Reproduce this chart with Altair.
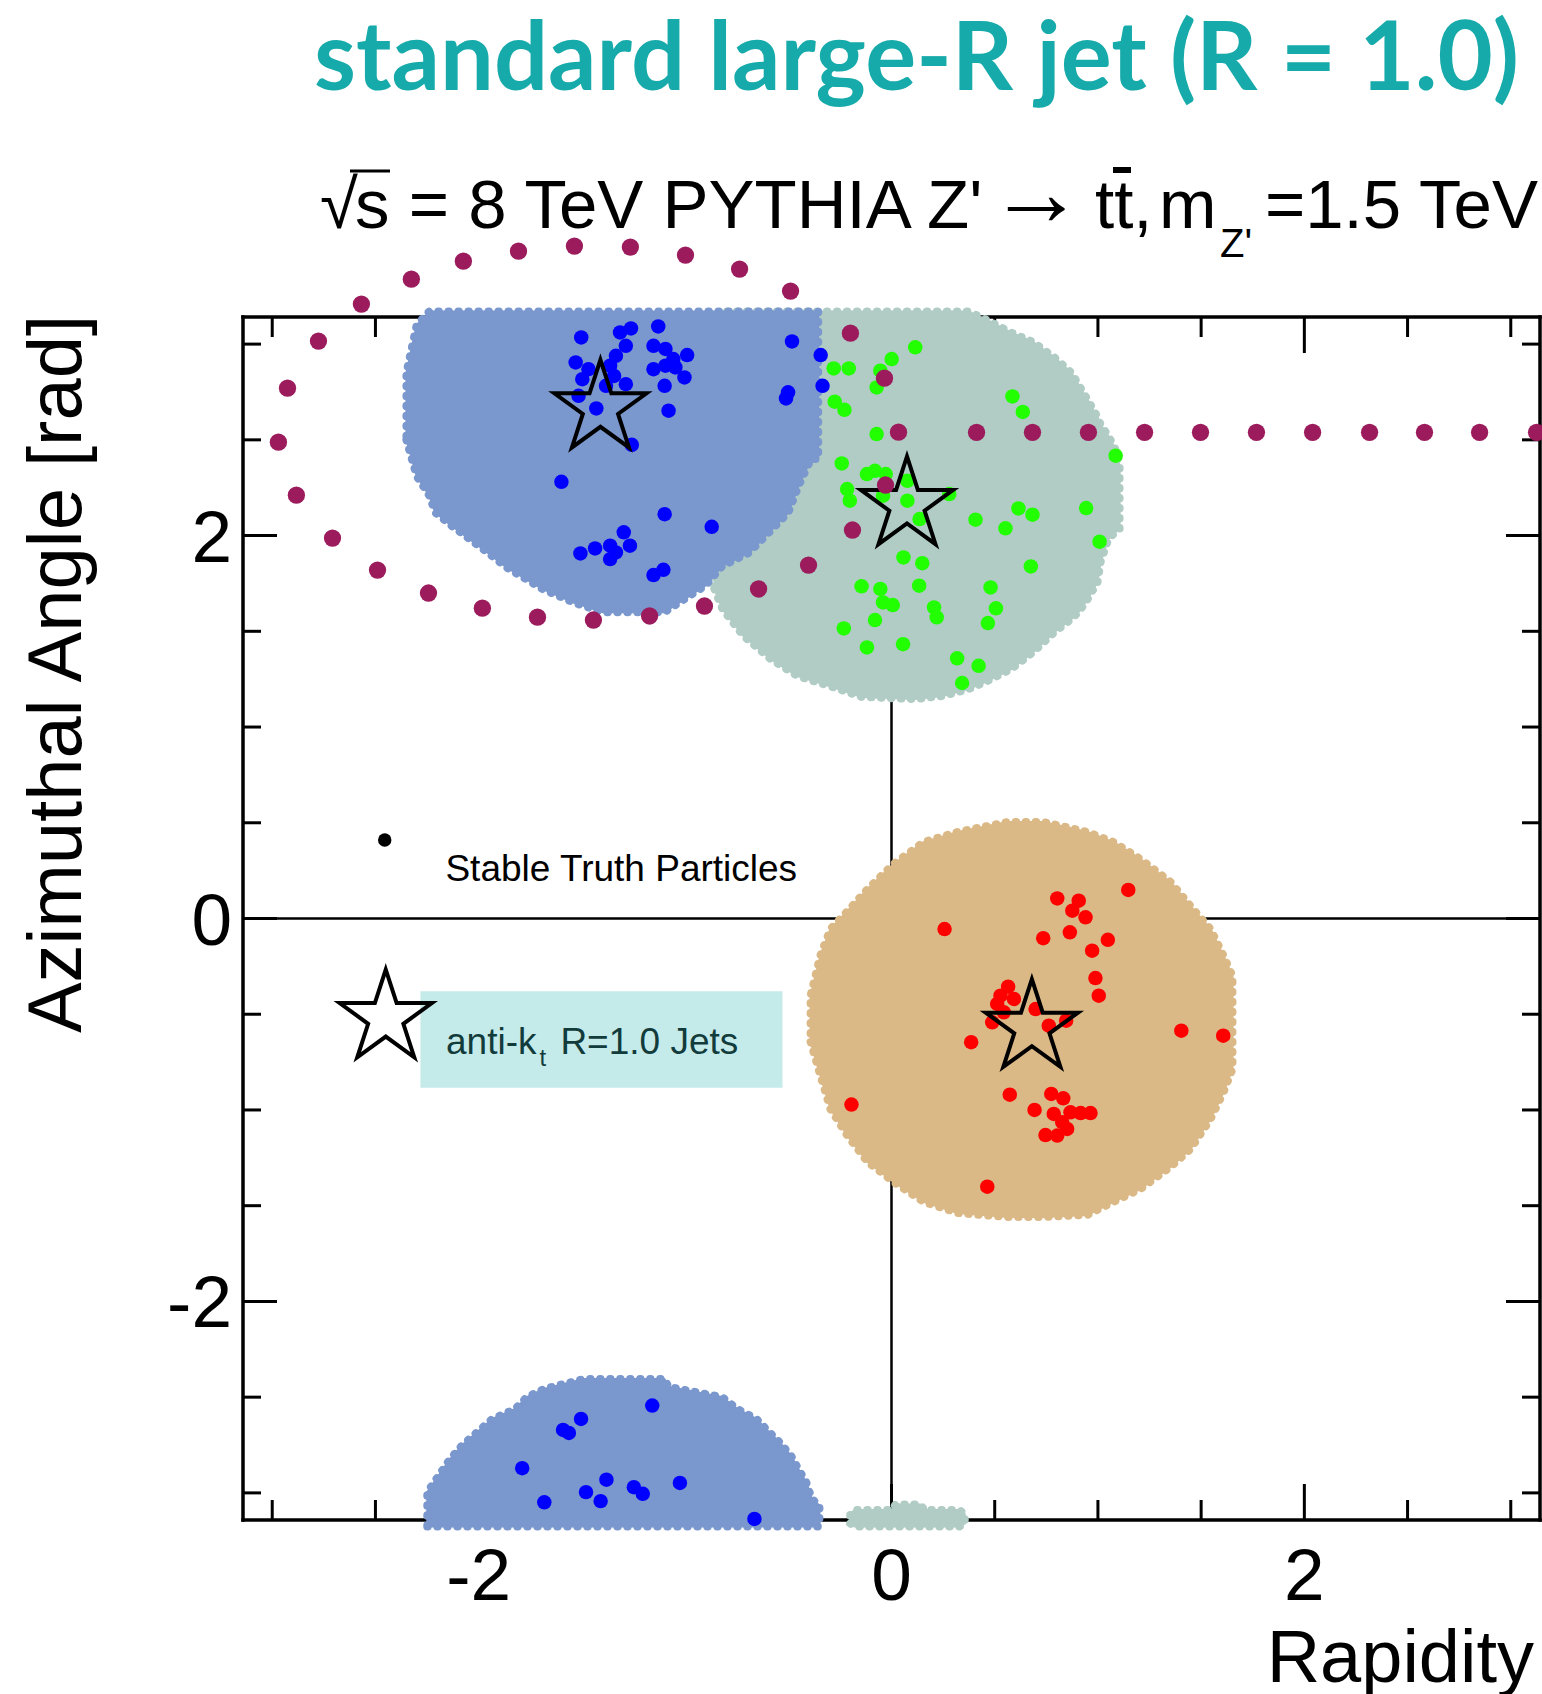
import math

import altair as alt
import pandas as pd

PI = math.pi

# plot area in pixels and the padding around it
W, H = 1297, 1203
PAD = {"left": 243, "top": 317, "right": 2, "bottom": 174}

# ---------------------------------------------------------------- data
# jet catchment areas: rapidity columns with lower / upper azimuth bounds
BLUE_TOP_X = [-2.35, -2.30, -2.24, -2.21, -2.13, -1.98, -1.86, -1.69, -1.54, -1.40,
              -1.10, -0.90, -0.82, -0.69, -0.59, -0.50, -0.45, -0.39, -0.355]
BLUE_TOP_LO = [2.50, 2.31, 2.21, 2.12, 2.05, 1.93, 1.83, 1.72, 1.65, 1.60,
               1.60, 1.74, 1.84, 1.91, 2.02, 2.12, 2.26, 2.40, 2.40]
BLUE_TOP_HI = [2.85, 3.10, 3.17, 3.17, 3.17, 3.17, 3.17, 3.17, 3.17, 3.17,
               3.17, 3.17, 3.17, 3.17, 3.17, 3.17, 3.17, 3.17, 3.17]

BLUE_BOT_X = [-2.249, -2.193, -2.138, -2.082, -2.008, -1.934, -1.823, -1.767, -1.684, -1.489,
              -1.100, -1.080, -0.951, -0.821, -0.747, -0.654, -0.599, -0.543, -0.487, -0.451,
              -0.413, -0.386, -0.349]
BLUE_BOT_HI = [-2.996, -2.908, -2.822, -2.753, -2.683, -2.614, -2.561, -2.500, -2.457, -2.405,
               -2.405, -2.446, -2.473, -2.499, -2.561, -2.614, -2.675, -2.734, -2.805, -2.875,
               -2.944, -3.031, -3.066]
BLUE_BOT_LO = [-3.175] * len(BLUE_BOT_X)

GREEN_TOP_X = [-0.858, -0.819, -0.717, -0.586, -0.455, -0.300, -0.145, 0.116, 0.247, 0.373,
               0.455, 0.581, 0.688, 0.790, 0.872, 0.911, 0.950, 0.998, 1.013, 1.051,
               1.090, 1.105]
GREEN_TOP_LO = [1.721, 1.616, 1.475, 1.355, 1.266, 1.214, 1.157, 1.146, 1.162, 1.198,
                1.235, 1.303, 1.392, 1.496, 1.564, 1.606, 1.668, 1.757, 1.862, 1.982,
                2.023, 2.034]
GREEN_TOP_HI = [1.80, 3.17, 3.17, 3.17, 3.17, 3.17, 3.17, 3.17, 3.17, 3.17,
                3.13, 3.06, 3.01, 2.93, 2.85, 2.78, 2.71, 2.62, 2.58, 2.52,
                2.44, 2.36]

GREEN_BOT_X = [-0.20, -0.18, 0.00, 0.02, 0.14, 0.16, 0.33, 0.355]
GREEN_BOT_LO = [-3.16, -3.175, -3.175, -3.175, -3.175, -3.175, -3.175, -3.16]
GREEN_BOT_HI = [-3.11, -3.09, -3.09, -3.06, -3.06, -3.09, -3.09, -3.11]

TAN_X = [-0.392, -0.344, -0.296, -0.213, -0.116, 0.010, 0.155, 0.320, 0.562, 0.736,
         0.950, 1.076, 1.206, 1.352, 1.449, 1.546, 1.609, 1.652]
TAN_HI = [-0.403, -0.191, -0.055, 0.039, 0.154, 0.285, 0.399, 0.452, 0.504, 0.504,
          0.452, 0.399, 0.311, 0.191, 0.065, -0.055, -0.196, -0.300]
TAN_LO = [-0.645, -0.822, -0.995, -1.136, -1.272, -1.376, -1.480, -1.538, -1.559, -1.559,
          -1.548, -1.480, -1.413, -1.298, -1.204, -1.047, -0.906, -0.786]

# stable truth particles (rapidity, azimuth)
BLUE_PART_X = [-1.503, -1.315, -1.262, -1.130, -1.530, -1.468, -1.363, -1.335, -1.287, -1.344,
               -1.498, -1.383, -1.287, -1.153, -1.095, -0.990, -1.153, -1.095, -1.057, -1.047,
               -1.003, -1.099, -1.516, -1.430, -1.080, -1.258, -1.599, -1.099, -0.871, -1.507,
               -1.436, -1.363, -1.297, -1.267, -1.363, -1.335, -1.153, -1.105, -0.482, -0.343,
               -0.334, -0.501, -0.511,
               -1.159, -1.504, -1.591, -1.563, -1.789, -1.381, -1.248, -1.205, -1.025, -1.480,
               -1.409, -1.682, -0.664]
BLUE_PART_Y = [3.035, 3.061, 3.082, 3.092, 2.904, 2.869, 2.887, 2.939, 2.991, 2.834,
               2.817, 2.782, 2.791, 2.991, 2.975, 2.943, 2.869, 2.887, 2.922, 2.878,
               2.826, 2.782, 2.730, 2.664, 2.652, 2.474, 2.281, 2.112, 2.046, 1.907,
               1.933, 1.947, 2.017, 1.947, 1.877, 1.912, 1.794, 1.821, 3.014, 2.943,
               2.782, 2.748, 2.716,
               -2.544, -2.614, -2.671, -2.687, -2.871, -2.931, -2.970, -3.005, -2.948, -2.996,
               -3.043, -3.049, -3.136]

GREEN_PART_X = [0.115, 0.001, -0.280, -0.207, -0.054, -0.072, -0.275, -0.228, 0.586, 0.636,
                -0.072, 1.086, -0.241, -0.119, -0.080, -0.028, -0.215, -0.202, 0.077, 0.077,
                0.280, 0.136, -0.041, 0.615, 0.683, 0.943, 0.407, 0.552, 1.008, 0.058,
                0.149, 0.675, -0.145, -0.054, 0.134, 0.480, -0.041, 0.006, 0.206, 0.219,
                0.506, 0.467, -0.080, -0.231, -0.119, 0.056, 0.318, 0.422, 0.342]
GREEN_PART_Y = [2.983, 2.922, 2.873, 2.873, 2.861, 2.774, 2.699, 2.657, 2.727, 2.646,
                2.530, 2.417, 2.377, 2.321, 2.338, 2.321, 2.243, 2.182, 2.286, 2.182,
                2.217, 2.086, 2.208, 2.142, 2.109, 2.144, 2.083, 2.038, 1.968, 1.886,
                1.856, 1.839, 1.735, 1.721, 1.738, 1.729, 1.651, 1.637, 1.625, 1.573,
                1.620, 1.543, 1.559, 1.515, 1.416, 1.433, 1.359, 1.320, 1.230]

RED_PART_X = [1.147, 0.803, 0.907, 0.876, 0.940, 0.257, 0.735, 0.864, 1.048, 0.972,
              0.988, 1.004, 0.565, 0.528, 0.593, 0.512, 0.544, 0.488, 0.698, 0.762,
              0.846, 0.386, 1.404, 1.607, -0.194, 0.573, 0.774, 0.832, 0.693, 0.786,
              0.867, 0.964, 0.916, 0.827, 0.851, 0.746, 0.803, 0.464]
RED_PART_Y = [0.149, 0.105, 0.093, 0.041, 0.006, -0.055, -0.103, -0.072, -0.111, -0.168,
              -0.311, -0.403, -0.356, -0.403, -0.420, -0.446, -0.490, -0.542, -0.473, -0.560,
              -0.534, -0.646, -0.586, -0.612, -0.972, -0.920, -0.916, -0.939, -1.000, -1.021,
              -1.012, -1.016, -1.016, -1.064, -1.099, -1.131, -1.134, -1.401]

# anti-kt R=1.0 jet axes
JET_X = [-1.41, 0.075, 0.68]
JET_Y = [2.665, 2.16, -0.57]

# dotted ring and pointer line
RING_X = [-2.568, -2.326, -2.074, -1.807, -1.536, -1.265, -0.998, -0.736, -0.489, -0.199,
          -0.034, 0.034, -0.029, -0.189, -0.402, -0.644, -0.906, -1.172, -1.444, -1.715,
          -1.982, -2.243, -2.490, -2.708, -2.883, -2.970, -2.926, -2.776,
          0.412, 0.683, 0.954, 1.226, 1.497, 1.768, 2.040, 2.316, 2.582, 2.849, 3.125]
RING_Y = [3.209, 3.339, 3.433, 3.486, 3.512, 3.507, 3.465, 3.392, 3.277, 3.057,
          2.822, 2.540, 2.264, 2.029, 1.846, 1.721, 1.632, 1.580, 1.559, 1.574,
          1.621, 1.700, 1.820, 1.987, 2.211, 2.488, 2.770, 3.016,
          2.539, 2.539, 2.539, 2.539, 2.539, 2.539, 2.539, 2.539, 2.539, 2.539, 2.539]

# axis ticks
MAJOR_TICKS = [-2, 0, 2]
MINOR_TICKS = [-3, -2.5, -1.5, -1, -0.5, 0.5, 1, 1.5, 2.5, 3]
TICK_LABELS = ["-2", "0", "2"]

# legend
LEGEND_DOT = {"x": [-2.455], "y": [0.41]}
LEGEND_STAR = {"x": [-2.45], "y": [-0.52]}
LEGEND_BOX = {"x": [-2.282], "x2": [-0.528], "y": [-0.380], "y2": [-0.884]}

# ---------------------------------------------------------------- styles
C_BLUE_AREA = "#7a97ce"
C_GREEN_AREA = "#b0ccc4"
C_TAN_AREA = "#dbb987"
C_BLUE = "#0000ff"
C_GREEN = "#22ff00"
C_RED = "#ff0000"
C_RING = "#9b1b5c"
C_TEAL = "#17aaaa"
C_BOX = "#c5eaea"
FONT = "Liberation Sans"

STAR = ("M0,-1L0.2245,-0.309L0.9511,-0.309L0.3633,0.118L0.5878,0.809L0,0.382"
        "L-0.5878,0.809L-0.3633,0.118L-0.9511,-0.309L-0.2245,-0.309Z")

X_SCALE = alt.Scale(domain=[-PI, PI], nice=False, zero=False)
Y_SCALE = alt.Scale(domain=[-PI, PI], nice=False, zero=False)


def xq(field):
    return alt.X(f"{field}:Q", scale=X_SCALE, axis=None)


def yq(field):
    return alt.Y(f"{field}:Q", scale=Y_SCALE, axis=None)


ONE = pd.DataFrame({"k": [0]})


def area(xs, lo, hi, color):
    """Filled catchment area; a dotted round-capped outline gives the bumpy ghost edge."""
    df = pd.DataFrame({"x": xs, "lo": lo, "hi": hi})
    fill = alt.Chart(df).mark_area(
        color=color, stroke=color, strokeWidth=2, strokeJoin="round", opacity=1
    ).encode(x=xq("x"), y=yq("lo"), y2="hi:Q")
    edge = alt.Chart(df).mark_area(
        fill=color, fillOpacity=0, stroke=color, strokeWidth=8, strokeCap="round",
        strokeDash=[0.5, 9.5], opacity=1
    ).encode(x=xq("x"), y=yq("lo"), y2="hi:Q")
    return [fill, edge]


def dots(xs, ys, color, size):
    df = pd.DataFrame({"x": xs, "y": ys})
    return alt.Chart(df).mark_circle(color=color, size=size, opacity=1).encode(
        x=xq("x"), y=yq("y"))


def stars(xs, ys):
    df = pd.DataFrame({"x": xs, "y": ys})
    return alt.Chart(df).mark_point(
        shape=STAR, size=9400, filled=False, color="black", strokeWidth=4,
        opacity=1, strokeJoin="miter"
    ).encode(x=xq("x"), y=yq("y"))


def frame_line(**enc):
    return alt.Chart(ONE).mark_rule(color="black", strokeWidth=3.5, strokeCap="square").encode(**enc)


def xticks(values, length):
    df = pd.DataFrame({"v": values})
    base = alt.Chart(df).mark_rule(color="black", strokeWidth=3)
    return [
        base.encode(x=xq("v"), y=alt.value(H), y2=alt.value(H - length)),
        base.encode(x=xq("v"), y=alt.value(0), y2=alt.value(length)),
    ]


def yticks(values, length):
    df = pd.DataFrame({"v": values})
    base = alt.Chart(df).mark_rule(color="black", strokeWidth=3)
    return [
        base.encode(y=yq("v"), x=alt.value(0), x2=alt.value(length)),
        base.encode(y=yq("v"), x=alt.value(W - length), x2=alt.value(W)),
    ]


def text_px(txt, px, py, size, align="left", font=FONT, color="black", **kw):
    df = pd.DataFrame({"t": [txt]})
    return alt.Chart(df).mark_text(
        align=align, baseline="alphabetic", font=font, fontSize=size, color=color, **kw
    ).encode(x=alt.value(px), y=alt.value(py), text="t:N")


def text_data(txt, x, y, size, color="black", **kw):
    df = pd.DataFrame({"t": [txt], "x": [x], "y": [y]})
    return alt.Chart(df).mark_text(
        align="left", baseline="alphabetic", font=FONT, fontSize=size, color=color, **kw
    ).encode(x=xq("x"), y=yq("y"), text="t:N")


def bar_px(x0, x1, y, width):
    return alt.Chart(ONE).mark_rule(color="black", strokeWidth=width).encode(
        x=alt.value(x0), x2=alt.value(x1), y=alt.value(y))


# ---------------------------------------------------------------- layers
layers = []

# frame, ticks and the zero lines sit underneath the jet areas
layers += [
    frame_line(x=alt.value(0), x2=alt.value(W), y=alt.value(0)),
    frame_line(x=alt.value(0), x2=alt.value(W), y=alt.value(H)),
    frame_line(x=alt.value(0), y=alt.value(0), y2=alt.value(H)),
    frame_line(x=alt.value(W), y=alt.value(0), y2=alt.value(H)),
]
layers += xticks(MAJOR_TICKS, 36) + xticks(MINOR_TICKS, 20)
layers += yticks(MAJOR_TICKS, 34) + yticks(MINOR_TICKS, 18)
zero = pd.DataFrame({"v": [0]})
layers += [
    alt.Chart(zero).mark_rule(color="black", strokeWidth=2.5).encode(
        x=xq("v"), y=alt.value(0), y2=alt.value(H)),
    alt.Chart(zero).mark_rule(color="black", strokeWidth=2.5).encode(
        y=yq("v"), x=alt.value(0), x2=alt.value(W)),
]

# jet catchment areas
layers += area(GREEN_TOP_X, GREEN_TOP_LO, GREEN_TOP_HI, C_GREEN_AREA)
layers += area(GREEN_BOT_X, GREEN_BOT_LO, GREEN_BOT_HI, C_GREEN_AREA)
layers += area(TAN_X, TAN_LO, TAN_HI, C_TAN_AREA)
layers += area(BLUE_TOP_X, BLUE_TOP_LO, BLUE_TOP_HI, C_BLUE_AREA)
layers += area(BLUE_BOT_X, BLUE_BOT_LO, BLUE_BOT_HI, C_BLUE_AREA)

# particles and jet axes
layers += [
    dots(GREEN_PART_X, GREEN_PART_Y, C_GREEN, 210),
    dots(BLUE_PART_X, BLUE_PART_Y, C_BLUE, 210),
    dots(RED_PART_X, RED_PART_Y, C_RED, 210),
    stars(JET_X, JET_Y),
]

# legend
layers += [
    alt.Chart(pd.DataFrame(LEGEND_BOX)).mark_rect(color=C_BOX, opacity=1).encode(
        x=xq("x"), x2="x2:Q", y=yq("y"), y2="y2:Q"),
    dots(LEGEND_DOT["x"], LEGEND_DOT["y"], "black", 180),
    stars(LEGEND_STAR["x"], LEGEND_STAR["y"]),
    text_data("Stable Truth Particles", -2.161, 0.197, 37),
    text_data("anti-k", -2.158, -0.708, 37, color="#123b3b"),
    text_data("t", -1.705, -0.769, 24, color="#123b3b"),
    text_data("R=1.0 Jets", -1.604, -0.708, 37, color="#123b3b"),
]

# dotted ring with its pointer line
layers.append(dots(RING_X, RING_Y, C_RING, 300))

# tick labels
xl = pd.DataFrame({"v": MAJOR_TICKS, "t": TICK_LABELS})
layers += [
    alt.Chart(xl).mark_text(align="center", baseline="alphabetic", font=FONT, fontSize=73,
                            color="black").encode(x=xq("v"), y=alt.value(1283), text="t:N"),
    alt.Chart(xl).mark_text(align="right", baseline="alphabetic", font=FONT, fontSize=73,
                            color="black", dy=26).encode(y=yq("v"), x=alt.value(-11), text="t:N"),
]

# axis titles
layers += [
    text_px("Rapidity", 1291, 1365, 74, align="right"),
    text_px("Azimuthal Angle [rad]", -162, 357, 76, align="center", angle=270),
]

# headline and process label
layers += [
    text_px("standard large-R jet (R = 1.0)", 1276, -227, 95.5, align="right",
            font="Lato", color=C_TEAL, fontWeight="bold"),
    text_px("\u221a", 77, -88.7, 69),
    bar_px(107, 147, -146, 3),
    text_px("s = 8 TeV PYTHIA Z'", 112, -88.7, 69),
    text_px("\u2192", 745, -92, 96),
    text_px("tt,", 852, -88.7, 69),
    bar_px(870, 888, -147, 6),
    text_px("m", 916, -88.7, 69),
    text_px("Z'", 977, -60, 40),
    text_px("=1.5 TeV", 1295, -88.7, 69, align="right"),
]

chart = alt.layer(*layers).properties(
    width=W,
    height=H,
    autosize=alt.AutoSizeParams(type="none"),
    padding=PAD,
).configure_view(strokeWidth=0).configure(background="white")

chart.save("out.html", embed_options={"renderer": "svg", "actions": False})
